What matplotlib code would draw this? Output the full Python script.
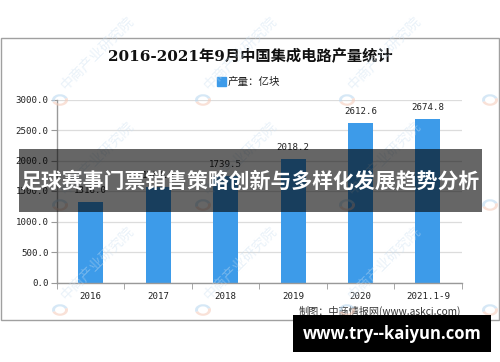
import matplotlib
matplotlib.use('Agg')
import matplotlib.pyplot as plt
from matplotlib.patches import Rectangle, Wedge

categories = ['2016', '2017', '2018', '2019', '2020', '2021.1-9']
production = [1318.0, 1564.9, 1739.5, 2018.2, 2612.6, 2674.8]
yticks = [0, 500, 1000, 1500, 2000, 2500, 3000]
title = '2016-2021年9月中国集成电路产量统计'
legend_label = '产量：亿块'
source = '制图：中商情报网(www.askci.com)'
banner = '足球赛事门票销售策略创新与多样化发展趋势分析'
site = 'www.try--kaiyun.com'
watermark = '中商产业研究院'

W, H = 500, 362
fig = plt.figure(figsize=(5, 3.62), dpi=100)
fig.patch.set_facecolor('white')

def fx(x):
    return x / W

def fy(y):
    return 1 - y / H

CJK = ['Noto Sans CJK SC', 'DejaVu Sans']
MONO = ['DejaVu Sans Mono', 'Noto Sans CJK SC']

# outer border
fig.patches.append(Rectangle((fx(0.5), fy(320)), fx(498.5), (320 - 38) / H,
                             transform=fig.transFigure, fill=False,
                             edgecolor='#a0a0a0', linewidth=1.0, zorder=0))

ax = fig.add_axes([fx(57), fy(282.5), (461.7 - 57) / W, (282.5 - 99.5) / H])
xs = list(range(len(categories)))
ax.bar(xs, production, width=0.37, color='#3d9be9', zorder=2)
for xi, v in zip(xs, production):
    ax.annotate(f'{v:.1f}', (xi, v), xytext=(0, 5), textcoords='offset points',
                ha='center', va='bottom', fontsize=6.6, family=MONO, color='#222222')

ax.set_xlim(-0.5, len(categories) - 0.5)
ax.set_ylim(yticks[0], yticks[-1])
ax.set_yticks(yticks)
ax.set_yticklabels([f'{v:.1f}' for v in yticks], fontsize=6.6, family=MONO, color='#222222')
ax.set_xticks(xs)
ax.set_xticklabels(categories, fontsize=6.6, family=MONO, color='#222222')
ax.set_xticks([i - 0.5 for i in range(len(categories) + 1)], minor=True)
ax.tick_params(axis='x', which='major', length=0, pad=7)
ax.tick_params(axis='x', which='minor', length=4, color='#999999')
ax.tick_params(axis='y', which='major', length=4, color='#999999', pad=2)
ax.grid(axis='y', color='#dcdcdc', linewidth=0.9, zorder=0)
ax.set_axisbelow(True)
for s in ['top', 'right']:
    ax.spines[s].set_visible(False)
for s in ['left', 'bottom']:
    ax.spines[s].set_color('#999999')
    ax.spines[s].set_linewidth(1.0)

# title
fig.text(fx(250), fy(57), title, ha='center', va='center', fontsize=11,
         fontweight='bold', family=['DejaVu Serif', 'Noto Sans CJK SC'], color='#111111')
# legend
fig.patches.append(Rectangle((fx(217), fy(86)), 8.5 / W, 8.5 / H,
                             transform=fig.transFigure, color='#3d9be9'))
fig.text(fx(228), fy(82), legend_label, ha='left', va='center', fontsize=7.6,
         family=CJK, color='#222222')
# source
fig.text(fx(461), fy(311), source, ha='right', va='center', fontsize=7.3,
         family=CJK, color='#333333')

# watermarks (faint logo rings + rotated text)
for wy in [100, 205, 310]:
    for wx in [60, 203, 347, 490]:
        c = (fx(wx), fy(wy))
        fig.patches.append(Wedge(c, 0.016, 20, 200, width=0.006, transform=fig.transFigure,
                                 facecolor='#bcd9f0', edgecolor='none', alpha=0.6, zorder=5))
        fig.patches.append(Wedge(c, 0.016, 200, 380, width=0.006, transform=fig.transFigure,
                                 facecolor='#f5cdbd', edgecolor='none', alpha=0.6, zorder=5))
        if wx < 450:
            fig.text(fx(wx + 8), fy(wy - 8), watermark, ha='left', va='bottom',
                     fontsize=10, rotation=45, rotation_mode='anchor',
                     color='#c9def0', alpha=0.4, family=CJK, zorder=5)

# overlay banner
fig.patches.append(Rectangle((fx(19), fy(212)), (482 - 19) / W, (212 - 149) / H,
                             transform=fig.transFigure, facecolor='black',
                             alpha=0.6, edgecolor='none', zorder=10))
fig.text(fx(250), fy(182), banner, ha='center', va='center', fontsize=15,
         fontweight='bold', family=CJK, color='white', zorder=11)

# bottom site banner
fig.patches.append(Rectangle((fx(293), fy(352)), (491 - 293) / W, (352 - 315) / H,
                             transform=fig.transFigure, facecolor='black',
                             edgecolor='none', zorder=10))
fig.text(fx(392), fy(334), site, ha='center', va='center', fontsize=12,
         fontweight='bold', family=['Open Sans', 'DejaVu Sans'], color='white', zorder=11)

fig.savefig('out.png', dpi=100)
